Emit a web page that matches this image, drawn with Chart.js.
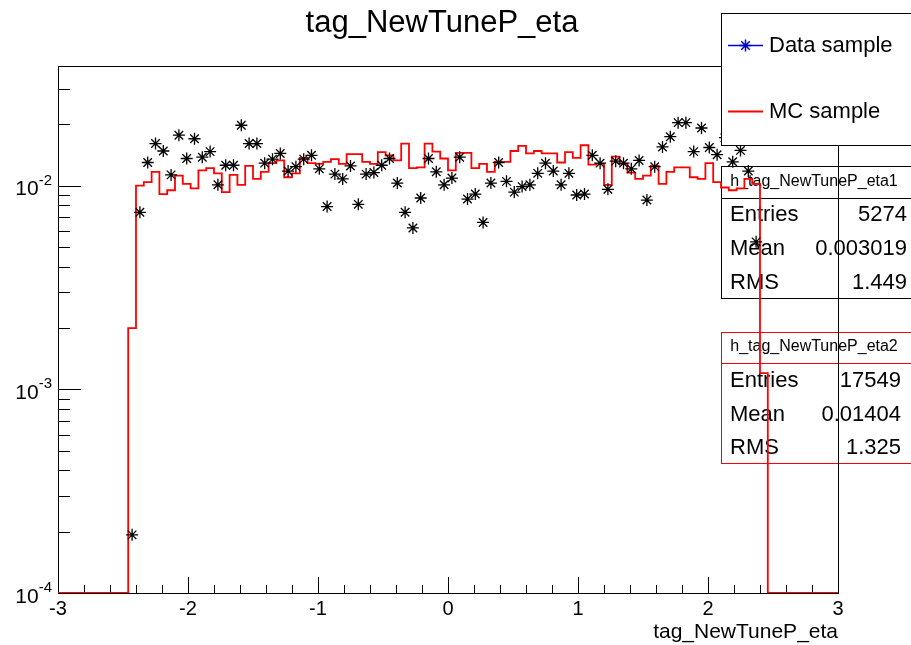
<!DOCTYPE html>
<html>
<head>
<meta charset="utf-8">
<title>tag_NewTuneP_eta</title>
<script src="https://cdn.jsdelivr.net/npm/chart.js@4.4.0/dist/chart.umd.min.js"></script>
<style>
  html, body { margin: 0; padding: 0; background: #fff; }
  #wrap { width: 911px; height: 645px; }
</style>
</head>
<body>
<div id="wrap"><canvas id="etaChart" width="911" height="645"></canvas></div>
<script>
// histogram binning: 100 bins over [-3, 3], bins 9..90 are filled
const binCount = 100;
const xLow = -3;
const xHigh = 3;
const firstFilledBin = 9;

// data sample, normalised bin contents (null = empty bin)
const dataValues = [
    0.000193, 0.0074, 0.0130, 0.0161, 0.0148, 0.0113, 0.0177, 0.0136, 0.0170, 0.0138,
    0.0147, 0.0101, 0.0126, 0.0126, 0.0198, 0.0161, 0.0161, 0.0129, 0.0135, 0.0144,
    0.0118, 0.0124, 0.0135, 0.0141, 0.0121, 0.0079, 0.0114, 0.0108, 0.0125, 0.0081,
    0.0114, 0.0116, 0.0126, 0.0136, 0.0103, 0.0074, 0.0062, 0.0087, 0.0136, 0.0117,
    0.0101, 0.0109, 0.0138, 0.0086, 0.0091, 0.0066, 0.0103, 0.0130, 0.0105, 0.0093,
    0.0099, 0.0101, 0.0115, 0.0129, 0.0118, 0.0101, 0.0115, 0.0090, 0.0091, 0.0141,
    0.0129, 0.0096, 0.0132, 0.0129, 0.0121, 0.0133, 0.0085, 0.0124, 0.0155, 0.0174,
    0.0204, 0.0204, 0.0147, 0.0192, 0.0154, 0.0142, 0.0172, 0.0131, 0.0149, 0.0118,
    0.0053, null
];

// MC sample, normalised bin contents
const mcValues = [
    0.0020, 0.0100, 0.0104, 0.0117, 0.0091, 0.0095, 0.0112, 0.0102, 0.0097, 0.0119,
    0.0122, 0.0115, 0.0093, 0.0113, 0.0101, 0.0125, 0.0108, 0.0117, 0.0129, 0.0133,
    0.0110, 0.0115, 0.0137, 0.0129, 0.0128, 0.0131, 0.0135, 0.0128, 0.0143, 0.0143,
    0.0131, 0.0128, 0.0146, 0.0141, 0.0133, 0.0161, 0.0122, 0.0123, 0.0161, 0.0147,
    0.0136, 0.0119, 0.0145, 0.0145, 0.0122, 0.0128, 0.0117, 0.0131, 0.0131, 0.0148,
    0.0157, 0.0144, 0.0148, 0.0144, 0.0144, 0.0130, 0.0146, 0.0137, 0.0158, 0.0127,
    0.0128, 0.0101, 0.0139, 0.0128, 0.0116, 0.0108, 0.0112, 0.0125, 0.0102, 0.0117,
    0.0123, 0.0123, 0.0110, 0.0108, 0.0129, 0.0104, 0.0098, 0.0095, 0.0097, 0.0108,
    0.0102, 0.0012
];

const yMin = 1e-4;
const yMax = 0.0387;

const xTickLabels = ['-3', '-2', '-1', '0', '1', '2', '3'];
const yTickExponents = ['-4', '-3', '-2'];

const legendLabels = ['Data sample', 'MC sample'];

const statNames = ['h_tag_NewTuneP_eta1', 'h_tag_NewTuneP_eta2'];
const statEntries = ['5274', '17549'];
const statMeans = ['0.003019', '0.01404'];
const statRms = ['1.449', '1.325'];

const FONT = '"Liberation Sans", Arial, Helvetica, sans-serif';
const binWidth = (xHigh - xLow) / binCount;

// points of the data histogram at bin centres
const dataPoints = [];
dataValues.forEach((v, i) => {
    if (v === null) return;
    dataPoints.push({ x: xLow + (firstFilledBin + i + 0.5) * binWidth, y: v });
});

// step outline of the MC histogram, one point per lower bin edge
const mcPoints = [{ x: xLow, y: yMin }];
mcValues.forEach((v, i) => {
    mcPoints.push({ x: xLow + (firstFilledBin + i) * binWidth, y: v });
});
mcPoints.push({ x: xLow + (firstFilledBin + mcValues.length) * binWidth, y: yMin });
mcPoints.push({ x: xHigh, y: yMin });

function drawStatsBox(ctx, idx, box) {
    ctx.save();
    ctx.fillStyle = '#fff';
    ctx.fillRect(box.left, box.top, box.right - box.left, box.bottom - box.top);
    ctx.strokeStyle = box.color;
    ctx.lineWidth = 1;
    ctx.strokeRect(box.left + 0.5, box.top + 0.5, box.right - box.left, box.bottom - box.top);
    ctx.beginPath();
    ctx.moveTo(box.left, box.sep + 0.5);
    ctx.lineTo(box.right, box.sep + 0.5);
    ctx.stroke();

    ctx.fillStyle = '#000';
    ctx.textBaseline = 'middle';
    ctx.font = '16px ' + FONT;
    ctx.textAlign = 'center';
    ctx.fillText(statNames[idx], 814, box.headY);

    ctx.font = '22px ' + FONT;
    const rows = [['Entries', statEntries[idx]], ['Mean', statMeans[idx]], ['RMS', statRms[idx]]];
    rows.forEach((r, j) => {
        ctx.textAlign = 'left';
        ctx.fillText(r[0], 730, box.rowY[j]);
        ctx.textAlign = 'right';
        ctx.fillText(r[1], box.valueX, box.rowY[j]);
    });
    ctx.restore();
}

// stats boxes, frame and axis ticks go under the histograms
const underlayPlugin = {
    id: 'underlay',
    beforeDatasetsDraw(chart) {
        const ctx = chart.ctx;
        drawStatsBox(ctx, 0, { left: 721, right: 915, top: 166, bottom: 298, sep: 198,
            headY: 182, rowY: [215, 249, 283], valueX: 907, color: '#000' });
        drawStatsBox(ctx, 1, { left: 721, right: 915, top: 332, bottom: 463, sep: 363,
            headY: 347, rowY: [381, 415, 448], valueX: 901, color: '#ff0000' });

        const xs = chart.scales.x;
        const ys = chart.scales.y;
        const area = chart.chartArea;
        ctx.save();
        ctx.strokeStyle = '#000';
        ctx.lineWidth = 1;
        ctx.strokeRect(Math.round(area.left) + 0.5, Math.round(area.top) + 0.5,
            Math.round(area.right - area.left), Math.round(area.bottom - area.top));

        // x ticks: long at integers, short every 0.2
        ctx.beginPath();
        for (let i = 0; i <= 30; i++) {
            const v = xLow + i * 0.2;
            const px = Math.round(xs.getPixelForValue(v)) + 0.5;
            const len = (i % 5 === 0) ? 16 : 8;
            ctx.moveTo(px, area.bottom);
            ctx.lineTo(px, area.bottom - len);
        }
        // y ticks on the log axis
        for (let e = -4; e <= -2; e++) {
            for (let m = 1; m <= 9; m++) {
                const v = m * Math.pow(10, e);
                if (v > yMax) break;
                const py = Math.round(ys.getPixelForValue(v)) + 0.5;
                const len = (m === 1) ? 23 : 12;
                ctx.moveTo(area.left, py);
                ctx.lineTo(area.left + len, py);
            }
        }
        ctx.stroke();

        // tick labels
        ctx.fillStyle = '#000';
        ctx.textBaseline = 'middle';
        ctx.font = '20px ' + FONT;
        ctx.textAlign = 'center';
        xTickLabels.forEach(t => {
            ctx.fillText(t, xs.getPixelForValue(Number(t)), area.bottom + 16);
        });
        yTickExponents.forEach(ex => {
            const py = ys.getPixelForValue(Math.pow(10, Number(ex)));
            ctx.font = '15px ' + FONT;
            ctx.textAlign = 'left';
            const supW = ctx.measureText(ex).width;
            ctx.fillText(ex, 52 - supW, py - 5);
            ctx.font = '21px ' + FONT;
            ctx.textAlign = 'right';
            ctx.fillText('10', 52 - supW, py + 4);
        });
        ctx.restore();
    },
    afterDraw(chart) {
        const ctx = chart.ctx;
        const area = chart.chartArea;
        ctx.save();

        // legend
        ctx.fillStyle = '#fff';
        ctx.fillRect(721, 13, 194, 132);
        ctx.strokeStyle = '#000';
        ctx.lineWidth = 1;
        ctx.strokeRect(721.5, 13.5, 194, 132);

        ctx.lineWidth = 1.5;
        ctx.strokeStyle = '#0000cc';
        ctx.beginPath();
        ctx.moveTo(728, 45.5);
        ctx.lineTo(763, 45.5);
        ctx.stroke();
        Chart.helpers.drawPoint(ctx, { pointStyle: 'star', radius: 6, borderWidth: 1.3 }, 745.5, 45.5);

        ctx.strokeStyle = '#ff0000';
        ctx.lineWidth = 1.8;
        ctx.beginPath();
        ctx.moveTo(728, 111.5);
        ctx.lineTo(763, 111.5);
        ctx.stroke();

        ctx.fillStyle = '#000';
        ctx.textBaseline = 'middle';
        ctx.textAlign = 'left';
        ctx.font = '22px ' + FONT;
        ctx.fillText(legendLabels[0], 769, 46);
        ctx.fillText(legendLabels[1], 769, 112);

        // title and axis title
        ctx.textAlign = 'center';
        ctx.font = '31px ' + FONT;
        ctx.fillText('tag_NewTuneP_eta', 442, 23);
        ctx.textAlign = 'right';
        ctx.font = '21px ' + FONT;
        ctx.fillText('tag_NewTuneP_eta', area.right, 632);
        ctx.restore();
    }
};

new Chart(document.getElementById('etaChart').getContext('2d'), {
    type: 'scatter',
    data: {
        datasets: [
            {
                label: 'MC sample',
                data: mcPoints,
                showLine: true,
                stepped: 'before',
                borderColor: '#ff0000',
                borderWidth: 1.8,
                pointRadius: 0,
                fill: false,
                order: 2
            },
            {
                label: 'Data sample',
                data: dataPoints,
                showLine: false,
                pointStyle: 'star',
                pointRadius: 6,
                pointBorderWidth: 1.3,
                borderColor: '#000',
                backgroundColor: '#000',
                order: 1
            }
        ]
    },
    options: {
        responsive: false,
        animation: false,
        layout: { padding: { left: 58, right: 73, top: 66, bottom: 52 } },
        plugins: {
            legend: { display: false },
            title: { display: false },
            tooltip: { enabled: false }
        },
        scales: {
            x: { type: 'linear', min: xLow, max: xHigh, display: false },
            y: { type: 'logarithmic', min: yMin, max: yMax, display: false }
        }
    },
    plugins: [underlayPlugin]
});
</script>
</body>
</html>
